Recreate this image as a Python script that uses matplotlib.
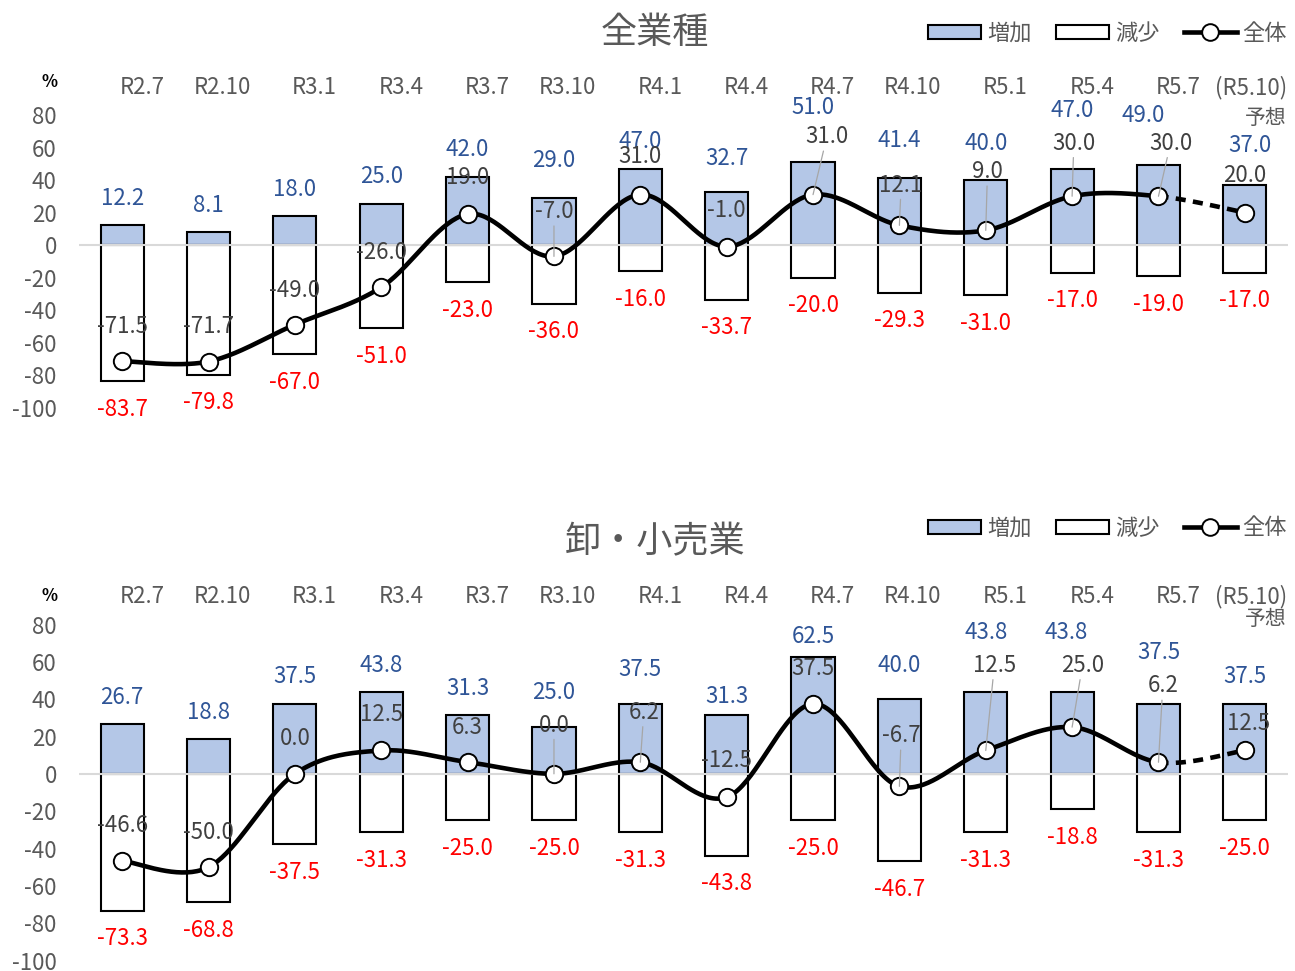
import numpy as np
import matplotlib
matplotlib.use("Agg")
import matplotlib.pyplot as plt
from matplotlib.patches import Patch
from matplotlib.lines import Line2D

plt.rcParams["font.family"] = ["Noto Sans CJK JP", "DejaVu Sans"]
plt.rcParams["axes.unicode_minus"] = False

# -----------------------------
# data
# -----------------------------
categories = ["R2.7", "R2.10", "R3.1", "R3.4", "R3.7", "R3.10", "R4.1",
              "R4.4", "R4.7", "R4.10", "R5.1", "R5.4", "R5.7", "(R5.10)"]

all_up = [12.2, 8.1, 18.0, 25.0, 42.0, 29.0, 47.0, 32.7, 51.0, 41.4, 40.0, 47.0, 49.0, 37.0]
all_down = [-83.7, -79.8, -67.0, -51.0, -23.0, -36.0, -16.0, -33.7, -20.0, -29.3, -31.0, -17.0, -19.0, -17.0]
all_total = [-71.5, -71.7, -49.0, -26.0, 19.0, -7.0, 31.0, -1.0, 31.0, 12.1, 9.0, 30.0, 30.0, 20.0]

retail_up = [26.7, 18.8, 37.5, 43.8, 31.3, 25.0, 37.5, 31.3, 62.5, 40.0, 43.8, 43.8, 37.5, 37.5]
retail_down = [-73.3, -68.8, -37.5, -31.3, -25.0, -25.0, -31.3, -43.8, -25.0, -46.7, -31.3, -18.8, -31.3, -25.0]
retail_total = [-46.6, -50.0, 0.0, 12.5, 6.3, 0.0, 6.2, -12.5, 37.5, -6.7, 12.5, 25.0, 6.2, 12.5]

# -----------------------------
# hand placed label positions (y in data units, dx in categories)
# -----------------------------
all_up_y = [28.7, 24.6, 34.3, 42.0, 58.5, 52.3, 63.6, 53.4, 84.7, 64.6, 62.6, 82.6, 80.0, 61.5]
all_up_dx = [0, 0, 0, 0, 0, 0, 0, 0, 0, 0, 0, 0, -0.18, 0.06]
all_tot_y = [-50.3, -50.3, -27.7, -4.7, 41.7, 20.5, 54.3, 21.5, 66.6, 36.9, 45.1, 62.6, 62.6, 42.5]
all_tot_dx = [0, 0, 0, 0, 0, 0, 0, 0, 0.16, 0.02, 0.02, 0.02, 0.14, 0]
all_leaders = [5, 8, 9, 10, 11, 12]

retail_up_y = [40.9, 32.9, 52.4, 58.1, 45.9, 43.6, 56.0, 41.4, 73.8, 58.1, 75.9, 75.9, 64.9, 52.4]
retail_up_dx = [0, 0, 0, 0, 0, 0, 0, 0, 0, 0, 0, -0.07, 0, 0]
retail_tot_y = [-27.6, -31.6, 19.0, 32.0, 24.9, 26.1, 32.9, 7.1, 56.4, 20.4, 58.1, 58.1, 47.1, 26.7]
retail_tot_dx = [0, 0, 0, 0, 0, 0, 0.04, 0, 0, 0.02, 0.1, 0.12, 0.05, 0.04]
retail_leaders = [5, 6, 9, 10, 11, 12]

BLUE = "#B4C7E7"
BLUE_TXT = "#2F5597"
GRAY_TXT = "#595959"
DARK_TXT = "#404040"


def smooth(xs, ys, steps=40):
    # bezier smoothing like spreadsheet "smoothed line"
    pts = np.column_stack([xs, ys]).astype(float)
    n = len(pts)
    segs = []
    for i in range(n - 1):
        p0 = pts[max(i - 1, 0)]
        p1 = pts[i]
        p2 = pts[i + 1]
        p3 = pts[min(i + 2, n - 1)]
        c1 = p1 + (p2 - p0) / 6
        c2 = p2 - (p3 - p1) / 6
        t = np.linspace(0, 1, steps)[:, None]
        seg = ((1 - t) ** 3) * p1 + 3 * ((1 - t) ** 2) * t * c1 + 3 * (1 - t) * t ** 2 * c2 + t ** 3 * p2
        segs.append(seg)
    return segs


def draw_panel(ax, up, down, total, up_y, up_dx, tot_y, tot_dx, leaders, forecast_y):
    x = np.arange(len(categories))

    ax.bar(x, up, width=0.5, color=BLUE, edgecolor="black", linewidth=1.5, zorder=2)
    ax.bar(x, down, width=0.5, color="white", edgecolor="black", linewidth=1.5, zorder=2)
    ax.axhline(0, color="#D9D9D9", linewidth=1.5, zorder=2.5)

    segs = smooth(x, total)
    solid = np.vstack(segs[:-1])
    ax.plot(solid[:, 0], solid[:, 1], color="black", linewidth=3.3,
            solid_capstyle="round", zorder=3)
    ax.plot(segs[-1][:, 0], segs[-1][:, 1], color="black", linewidth=3.3,
            linestyle=(0, (2.2, 1.6)), zorder=3)
    ax.plot(x, total, linestyle="none", marker="o", markersize=12.5,
            markerfacecolor="white", markeredgecolor="black", markeredgewidth=1.4, zorder=4)

    for i in range(len(categories)):
        ax.text(i + up_dx[i], up_y[i], f"{up[i]:.1f}", ha="center", va="center",
                color=BLUE_TXT, fontsize=16, zorder=5)
        ax.annotate(f"{down[i]:.1f}", xy=(i, down[i]), xytext=(0, -20.3),
                    textcoords="offset points", ha="center", va="center",
                    color="red", fontsize=16, zorder=5)
        if i in leaders:
            ax.annotate(f"{total[i]:.1f}", xy=(i, total[i]), xytext=(i + tot_dx[i], tot_y[i]),
                        ha="center", va="center", color=DARK_TXT, fontsize=16, zorder=5,
                        arrowprops=dict(arrowstyle="-", color="#A6A6A6", lw=0.9,
                                        shrinkA=0, shrinkB=0))
        else:
            ax.text(i + tot_dx[i], tot_y[i], f"{total[i]:.1f}", ha="center", va="center",
                    color=DARK_TXT, fontsize=16, zorder=5)

        ax.annotate(categories[i], xy=(i + 0.49, 1), xycoords=("data", "axes fraction"),
                    xytext=(0, 20), textcoords="offset points", ha="right", va="center",
                    color=GRAY_TXT, fontsize=16)

    ax.text(len(categories) - 1 + 0.49, forecast_y, "予想", ha="right", va="center",
            color=GRAY_TXT, fontsize=15)

    ax.set_xlim(-0.5, len(categories) - 0.5)
    ax.set_ylim(-100, 80)
    ax.set_yticks(range(-100, 81, 20))
    ax.set_xticks([])
    ax.tick_params(axis="y", length=0, pad=16, labelsize=16, labelcolor=GRAY_TXT)
    for s in ax.spines.values():
        s.set_visible(False)


fig = plt.figure(figsize=(12.95, 9.71), dpi=100)

ax1 = fig.add_axes([79 / 1295, 563.5 / 971, 1209 / 1295, 292.5 / 971])
ax2 = fig.add_axes([79 / 1295, 10.5 / 971, 1209 / 1295, 336 / 971])

draw_panel(ax1, all_up, all_down, all_total, all_up_y, all_up_dx,
           all_tot_y, all_tot_dx, all_leaders, 78.2)
draw_panel(ax2, retail_up, retail_down, retail_total, retail_up_y, retail_up_dx,
           retail_tot_y, retail_tot_dx, retail_leaders, 82.7)

handles = [
    Patch(facecolor=BLUE, edgecolor="black", linewidth=1.5, label="増加"),
    Patch(facecolor="white", edgecolor="black", linewidth=1.5, label="減少"),
    Line2D([0], [0], color="black", linewidth=3.3, marker="o", markersize=12,
           markerfacecolor="white", markeredgecolor="black", markeredgewidth=1.4, label="全体"),
]

for title, title_y, legend_y, pct_y in [("全業種", 33, 33, 82), ("卸・小売業", 542, 528, 596)]:
    fig.text(655 / 1295, 1 - title_y / 971, title, ha="center", va="center",
             fontsize=26, color=GRAY_TXT)
    fig.legend(handles=handles, loc="center right", bbox_to_anchor=(1287 / 1295, 1 - legend_y / 971),
               ncol=3, frameon=False, fontsize=16, labelcolor=GRAY_TXT,
               handlelength=2.4, handleheight=0.6, handletextpad=0.25,
               columnspacing=1.1, borderpad=0, borderaxespad=0)
    fig.text(49 / 1295, 1 - pct_y / 971, "%", ha="center", va="center",
             fontsize=12, color="black", fontweight="bold")

fig.savefig("out.png", dpi=100)
plt.close(fig)
